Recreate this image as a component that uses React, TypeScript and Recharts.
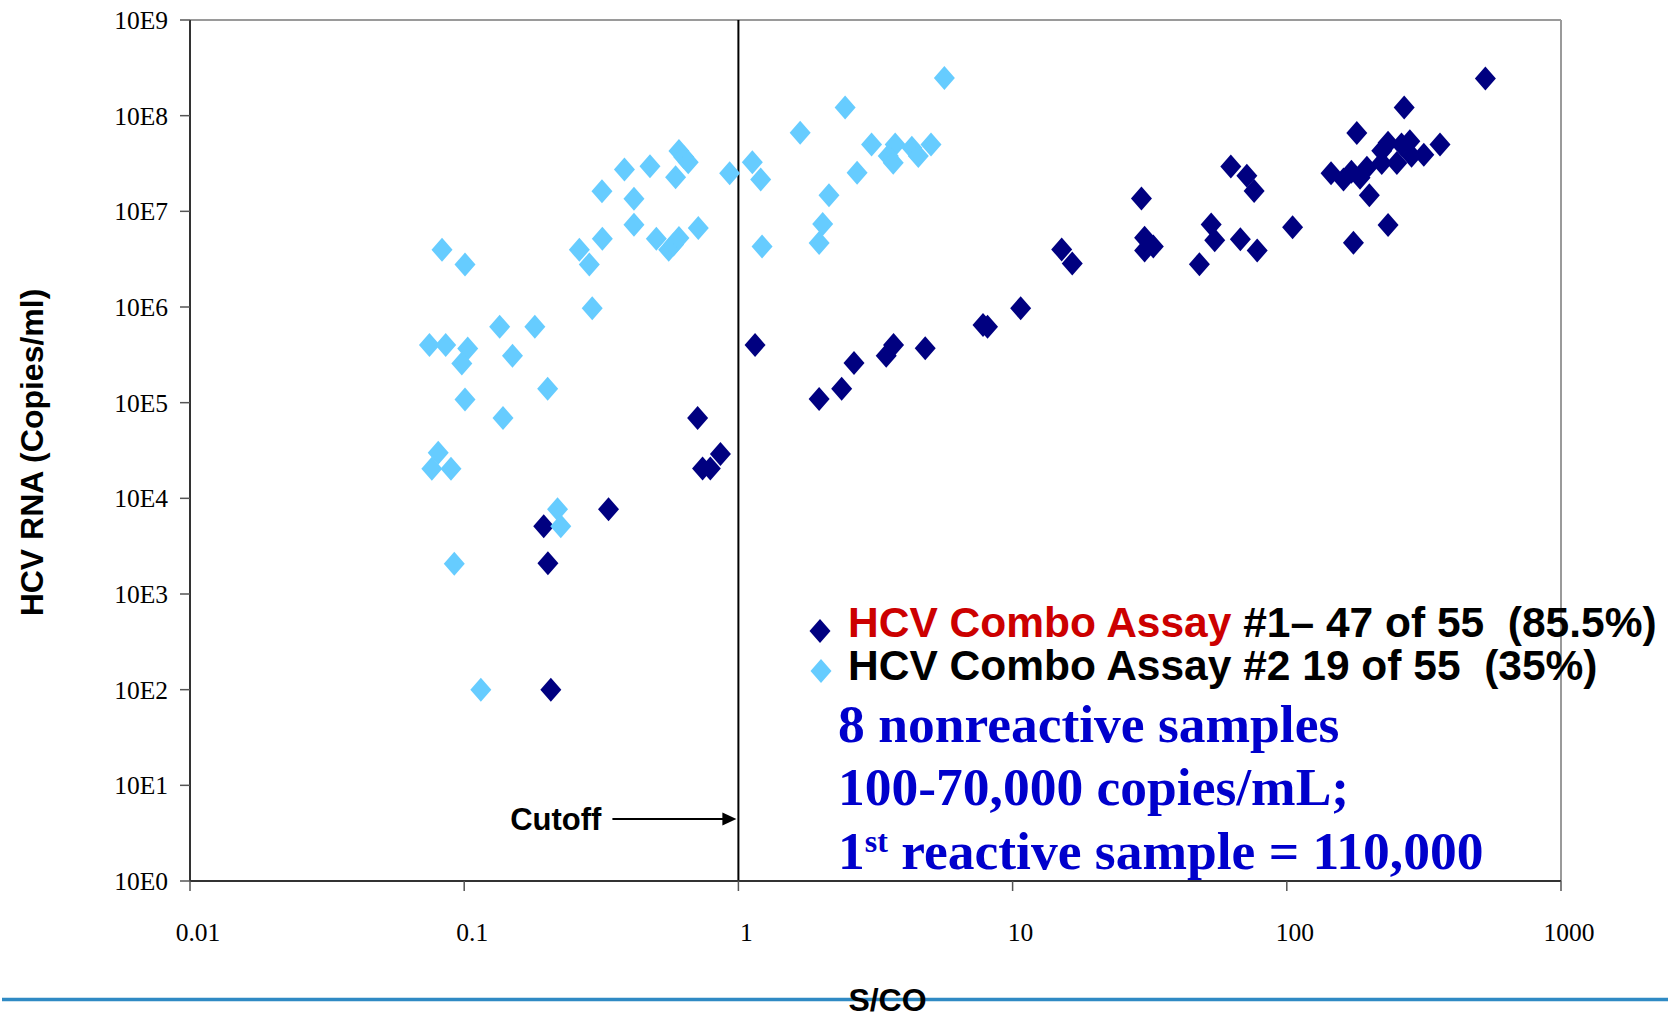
import React from 'react';
import { ScatterChart, Scatter, XAxis, YAxis, ReferenceLine, Legend } from 'recharts';

const NAVY = '#000080';
const SKY = '#66ccff';
const ANNOT_BLUE = '#0000cc';
const SANS = '"Liberation Sans", Arial, sans-serif';
const SERIF = '"Liberation Serif", "Times New Roman", serif';

// axis ticks: S/CO decades and HCV RNA decades (labelled 10E0..10E9)
const scoTicks = [0.01, 0.1, 1, 10, 100, 1000];
const rnaTicks = [1, 1e1, 1e2, 1e3, 1e4, 1e5, 1e6, 1e7, 1e8, 1e9];

// HCV Combo Assay #1 (navy)
const assay1Sco = [
  530, 268, 180, 362, 234, 222, 262, 281, 285, 316, 252, 222, 145, 161, 172, 185, 196, 200,
  234, 175, 105, 62.5, 71.5, 76, 29.5, 30.3, 32.6, 30.3, 53, 54.6, 67.7, 78, 48, 15.1, 16.5,
  10.7, 7.8, 8.1, 3.68, 3.46, 4.8, 2.64, 2.38, 1.97, 1.15, 0.71, 0.86, 0.74, 0.79, 0.336,
  0.195, 0.202, 0.207,
];
const assay1Rna = [
  2.45e8, 1.22e8, 6.6e7, 5.0e7, 5.2e7, 4.3e7, 5.0e7, 5.4e7, 3.8e7, 3.9e7, 3.2e7, 3.2e7, 2.5e7,
  2.15e7, 2.6e7, 2.25e7, 2.85e7, 1.47e7, 7.2e6, 4.7e6, 6.8e6, 2.95e7, 2.35e7, 1.63e7, 1.36e7,
  5.3e6, 4.3e6, 3.9e6, 7.3e6, 5.0e6, 5.1e6, 3.9e6, 2.8e6, 4.0e6, 2.85e6, 9.7e5, 6.5e5, 6.2e5,
  4.0e5, 3.1e5, 3.7e5, 2.6e5, 1.4e5, 1.09e5, 4.0e5, 6.9e4, 2.9e4, 2.05e4, 2.05e4, 7.7e3, 5.1e3,
  2.1e3, 100,
];

// HCV Combo Assay #2 (sky blue)
const assay2Sco = [
  0.083, 0.1007, 0.318, 0.384, 0.476, 0.607, 0.632, 0.656, 0.59, 0.929, 1.124, 1.206, 0.416,
  0.416, 0.319, 0.263, 0.286, 0.502, 0.557, 0.58, 0.607, 0.714, 1.22, 0.293, 0.0747, 0.0856,
  0.103, 0.098, 0.1347, 0.181, 0.15, 0.2015, 0.1007, 0.1385, 5.64, 2.45, 1.68, 3.06, 3.73, 3.52,
  3.67, 4.29, 4.53, 5.04, 2.71, 2.14, 2.03, 1.97, 0.0804, 0.0762, 0.0895, 0.092, 0.115, 0.219,
  0.225,
];
const assay2Rna = [
  3.96e6, 2.78e6, 1.62e7, 2.74e7, 2.96e7, 4.26e7, 3.7e7, 3.26e7, 2.27e7, 2.5e7, 3.26e7, 2.15e7,
  1.35e7, 7.25e6, 5.17e6, 3.96e6, 2.78e6, 5.17e6, 3.96e6, 4.5e6, 5.26e6, 6.7e6, 4.29e6, 9.7e5,
  4.0e5, 4.0e5, 3.69e5, 2.57e5, 6.22e5, 6.22e5, 3.09e5, 1.4e5, 1.08e5, 6.9e4, 2.47e8, 1.22e8,
  6.64e7, 5.0e7, 5.0e7, 3.78e7, 3.22e7, 4.62e7, 3.78e7, 5.0e7, 2.53e7, 1.47e7, 7.38e6, 4.66e6,
  3.0e4, 2.04e4, 2.04e4, 2.07e3, 100, 7.7e3, 5.1e3,
];

const legendLeads = ['HCV Combo Assay', 'HCV Combo Assay'];
const legendRests = [' #1\u2013 47 of 55  (85.5%)', ' #2 19 of 55  (35%)'];
const annotation = ['8 nonreactive samples', '100-70,000 copies/mL;', ' reactive sample = 110,000'];

const assay1 = assay1Sco.map((x, i) => ({ x, y: assay1Rna[i] }));
const assay2 = assay2Sco.map((x, i) => ({ x, y: assay2Rna[i] }));

const diamondPath = (cx: number, cy: number) =>
  `M${cx},${cy - 12}L${cx + 10.5},${cy}L${cx},${cy + 12}L${cx - 10.5},${cy}Z`;

const diamond = (color: string) => (props: any) => {
  const { cx, cy } = props;
  if (cx == null || cy == null) return <g />;
  return <path d={diamondPath(cx, cy)} fill={color} />;
};

const ScoTick = ({ x, y, payload }: any) => (
  <text x={x + 8} y={y + 50} textAnchor="middle" fontFamily={SERIF} fontSize={25.5} fill="#000">
    {String(payload.value)}
  </text>
);

const RnaTick = ({ x, y, payload }: any) => (
  <text x={x} y={y + 9} textAnchor="end" fontFamily={SERIF} fontSize={25.5} fill="#000">
    {'10E' + Math.round(Math.log10(payload.value))}
  </text>
);

const XTitle = ({ viewBox }: any) => (
  <text x={viewBox.x + viewBox.width / 2 + 12} y={viewBox.y + 130} textAnchor="middle"
    fontFamily={SANS} fontWeight="bold" fontSize={32} fill="#000">S/CO</text>
);

const YTitle = ({ viewBox }: any) => {
  const cy = viewBox.y + viewBox.height / 2 + 2;
  return (
    <text x={43} y={cy} transform={`rotate(-90, 43, ${cy})`} textAnchor="middle"
      fontFamily={SANS} fontWeight="bold" fontSize={32} fill="#000">HCV RNA (Copies/ml)</text>
  );
};

const CutoffLabel = ({ viewBox }: any) => {
  const x = viewBox.x;
  const bottom = viewBox.y + viewBox.height;
  const ay = bottom - 62;
  return (
    <g>
      <text x={x - 137} y={bottom - 51} textAnchor="end" fontFamily={SANS} fontWeight="bold"
        fontSize={31} fill="#000">Cutoff</text>
      <line x1={x - 126} y1={ay} x2={x - 14} y2={ay} stroke="#000" strokeWidth={2} />
      <path d={`M${x - 2},${ay}L${x - 16},${ay - 6.5}L${x - 16},${ay + 6.5}Z`} fill="#000" />
    </g>
  );
};

const LegendBox = () => (
  <svg width={868} height={100} style={{ overflow: 'visible', display: 'block' }}>
    {[NAVY, SKY].map((c, i) => (
      <g key={i}>
        <path d={diamondPath(20 + i, 30 + i * 40)} fill={c} />
        <text x={48} y={36 + i * 43} fontFamily={SANS} fontWeight="bold" fontSize={42.5}
          xmlSpace="preserve" style={{ whiteSpace: 'pre' }}>
          <tspan fill={i === 0 ? '#cc0000' : '#000'}>{legendLeads[i]}</tspan>
          <tspan fill="#000">{legendRests[i]}</tspan>
        </text>
      </g>
    ))}
  </svg>
);

export default function App() {
  return (
    <div style={{ position: 'absolute', left: 0, top: 0, width: 1668, height: 1019, background: '#fff' }}>
      <svg width={1668} height={1019} style={{ position: 'absolute', left: 0, top: 0 }}>
        <line x1={2} y1={999.5} x2={1668} y2={999.5} stroke="#2f8ac4" strokeWidth={3.5} />
      </svg>
      <ScatterChart width={1668} height={1019} margin={{ top: 20, right: 107, bottom: 78, left: 90 }}>
        <XAxis dataKey="x" type="number" scale="log" domain={[0.01, 1000]} ticks={scoTicks}
          allowDataOverflow interval={0} tickSize={10} tickMargin={0} height={60}
          axisLine={{ stroke: '#333', strokeWidth: 2 }} tickLine={{ stroke: '#555', strokeWidth: 1.5 }}
          tick={ScoTick} label={XTitle} />
        <YAxis dataKey="y" type="number" scale="log" domain={[1, 1e9]} ticks={rnaTicks}
          allowDataOverflow interval={0} tickSize={10} tickMargin={12} width={100}
          axisLine={{ stroke: '#333', strokeWidth: 2 }} tickLine={{ stroke: '#555', strokeWidth: 1.5 }}
          tick={RnaTick} label={YTitle} />
        <ReferenceLine y={1e9} stroke="#9a9a9a" strokeWidth={2} />
        <ReferenceLine x={1000} stroke="#9a9a9a" strokeWidth={2} />
        <Scatter name="HCV Combo Assay #1" data={assay1} fill={NAVY} shape={diamond(NAVY)}
          isAnimationActive={false} />
        <Scatter name="HCV Combo Assay #2" data={assay2} fill={SKY} shape={diamond(SKY)}
          isAnimationActive={false} />
        <ReferenceLine x={1} stroke="#000" strokeWidth={2} label={CutoffLabel} />
        <Legend layout="horizontal" verticalAlign="middle" align="center"
          wrapperStyle={{ left: 800, top: 601, width: 868, height: 100 }}
          content={() => <LegendBox />} />
      </ScatterChart>
      <svg width={1668} height={1019} style={{ position: 'absolute', left: 0, top: 0, pointerEvents: 'none' }}>
        <g fontFamily={SERIF} fontWeight="bold" fill={ANNOT_BLUE}>
          <text x={838} y={742} fontSize={53.5}>{annotation[0]}</text>
          <text x={838} y={805} fontSize={53.5}>{annotation[1]}</text>
          <text x={838} y={869} fontSize={53.5} xmlSpace="preserve" style={{ whiteSpace: 'pre' }}>
            1<tspan fontSize={32} dy={-17}>st</tspan>
            <tspan dy={17}>{annotation[2]}</tspan>
          </text>
        </g>
      </svg>
    </div>
  );
}
